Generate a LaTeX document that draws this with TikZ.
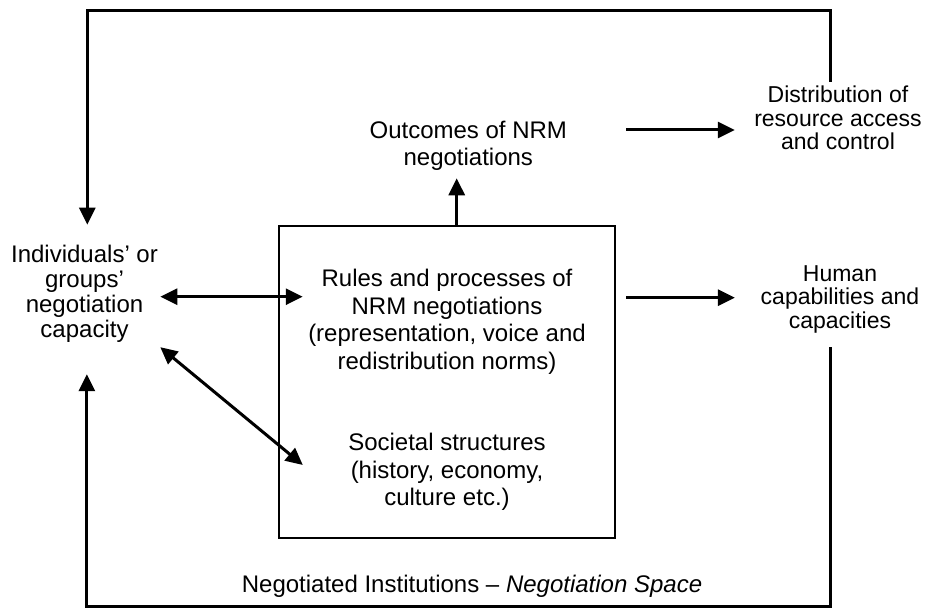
\documentclass[tikz,border=0pt]{standalone}
\usepackage{fontspec}
\setmainfont{Liberation Sans}
\usetikzlibrary{arrows.meta,calc,positioning}

\tikzset{
  flow/.style={line width=3pt,-{Triangle[length=17pt,width=16pt]}},
  dflow/.style={line width=3pt,{Triangle[length=17pt,width=16pt]}-{Triangle[length=17pt,width=16pt]}},
  txt/.style={align=center,inner sep=0pt,font=\fontsize{24}{27.6}\selectfont},
  sidetxt/.style={txt,font=\fontsize{23}{23.5}\selectfont},
}

\begin{document}
\begin{tikzpicture}[x=1pt,y=1pt]
  \useasboundingbox (0,0) rectangle (929,609);
  % the negotiated institutions
  \node[draw,line width=2.2pt,minimum width=336pt,minimum height=312.3pt] (box) at (447,227.15) {};
  \node[txt] (rules) at (447,287.2) {Rules and processes of\\NRM negotiations\\(representation, voice and\\redistribution norms)};
  \node[txt] (soc) at (447,136.9) {Societal structures\\(history, economy,\\culture etc.)};
  \node[txt] (outc) at (468.3,463.2) {Outcomes of NRM\\negotiations};
  \node[txt,font=\fontsize{24}{25}\selectfont] (ind) at (84.5,314.7) {Individuals’ or\\groups’\\negotiation\\capacity};
  \node[sidetxt] (dist) at (838,490.9) {Distribution of\\resource access\\and control};
  \node[sidetxt] (human) at (840,310) {Human\\capabilities and\\capacities};
  \node[txt,anchor=base] (space) at (472,16) {Negotiated Institutions – \textit{Negotiation Space}};

  % corners of the two loops
  \coordinate (tl) at (87.3,598.3);
  \coordinate (bl) at (86.9,2.3);

  \draw[flow] ([shift={(-7.3pt,4.2pt)}]dist.north) |- (tl) -- ($(tl |- ind.north)+(0,20.7)$);
  \draw[flow] ([shift={(-9.3pt,-14.2pt)}]human.south) |- (bl) -- ($(bl |- ind.south)+(0,-31)$);

  \draw[flow] ([xshift=9.7pt]box.north) -- ($(box.north |- outc.south)+(9.7,-7.3)$);
  \draw[flow] ($(box.east |- outc.east)+(10,15.8)$) -- ($(dist.west)+(-19.3,-11.9)$);
  \draw[flow] ($(box.east |- human.west)+(10,1.3)$) -- ($(human.west)+(-25.7,1.3)$);
  \draw[dflow] ($(ind.east)+(2.2,-2.4)$) -- ($(rules.west)+(-5.3,25.1)$);
  \draw[dflow] ($(ind.south east)+(2.2,-4)$) -- ($(soc.west)+(-45.3,7.1)$);
\end{tikzpicture}
\end{document}
